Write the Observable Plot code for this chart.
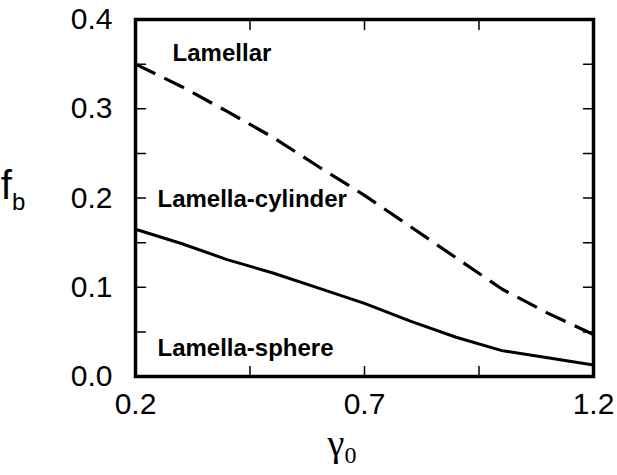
<!DOCTYPE html>
<html><head><meta charset="utf-8">
<script src="https://cdn.jsdelivr.net/npm/d3@7"></script>
<script src="https://cdn.jsdelivr.net/npm/@observablehq/plot@0.6"></script>
<style>body{margin:0;background:#fff}</style>
</head><body><div id="chart"></div>
<script>
// gamma_0 sample positions
const gamma = [0.2, 0.3, 0.4, 0.5, 0.6, 0.7, 0.8, 0.9, 1.0, 1.1, 1.2];
// Lamellar / lamella-cylinder boundary (dashed)
const lamellarBoundary = [0.350, 0.325, 0.297, 0.268, 0.235, 0.203, 0.168, 0.133, 0.098, 0.071, 0.047];
// Lamella-cylinder / lamella-sphere boundary (solid)
const sphereBoundary = [0.165, 0.149, 0.131, 0.116, 0.099, 0.082, 0.062, 0.044, 0.029, 0.021, 0.013];

const xTickLabels = [0.2, 0.7, 1.2];
const xTicks = [0.2, 0.45, 0.7, 0.95, 1.2];
const yTickLabels = [0.0, 0.1, 0.2, 0.3, 0.4];
const yTicks = [0.0, 0.05, 0.1, 0.15, 0.2, 0.25, 0.3, 0.35, 0.4];

const regionNames = ["Lamellar", "Lamella-cylinder", "Lamella-sphere"];
const regionX = [0.281, 0.248, 0.248];
const regionY = [0.362, 0.198, 0.032];

const spike = {draw(ctx, l) { ctx.moveTo(0, 0); ctx.lineTo(0, -l); }};
const tickStyle = {length: 10, anchor: "start", shape: spike, stroke: "black", strokeWidth: 1.5};

const chart = Plot.plot({
  width: 617,
  height: 475,
  marginLeft: 135,
  marginRight: 24,
  marginTop: 19,
  marginBottom: 99,
  style: {fontFamily: "'Liberation Sans', Arial, sans-serif", background: "white", color: "black"},
  x: {domain: [0.2, 1.2]},
  y: {domain: [0, 0.4]},
  marks: [
    Plot.axisX(xTickLabels, {tickSize: 0, tickPadding: 16, fontSize: 30, tickFormat: d3.format(".1f"), label: null}),
    Plot.axisY(yTickLabels, {tickSize: 0, tickPadding: 23, fontSize: 30, tickFormat: d3.format(".1f"), label: null}),
    Plot.vector(xTicks, {x: d => d, frameAnchor: "bottom", rotate: 0, ...tickStyle}),
    Plot.vector(xTicks, {x: d => d, frameAnchor: "top", rotate: 180, ...tickStyle}),
    Plot.vector(yTicks, {y: d => d, frameAnchor: "left", rotate: 90, ...tickStyle}),
    Plot.vector(yTicks, {y: d => d, frameAnchor: "right", rotate: -90, ...tickStyle}),
    Plot.line(gamma, {x: d => d, y: (d, i) => lamellarBoundary[i], stroke: "black", strokeWidth: 3.2, strokeDasharray: "22,10", strokeLinecap: "butt"}),
    Plot.line(gamma, {x: d => d, y: (d, i) => sphereBoundary[i], stroke: "black", strokeWidth: 3}),
    Plot.text(regionNames, {x: (d, i) => regionX[i], y: (d, i) => regionY[i], text: d => d, textAnchor: "start", fontSize: 24, fontWeight: "bold", fill: "black"}),
    Plot.frame({stroke: "black", strokeWidth: 3.5})
  ]
});
document.getElementById("chart").appendChild(chart);

// axis titles with subscripts
const svg = d3.select(chart);
const yl = svg.append("text").attr("x", 13).attr("y", 199)
  .attr("font-family", "'Liberation Sans', Arial, sans-serif").attr("fill", "black");
yl.append("tspan").attr("font-size", 40).text("f");
yl.append("tspan").attr("font-size", 24).attr("dy", 11).text("b");
const xl = svg.append("text").attr("x", 342).attr("y", 456)
  .attr("font-family", "'Liberation Serif', 'Times New Roman', serif").attr("fill", "black");
xl.append("tspan").attr("font-size", 38).text("γ");
xl.append("tspan").attr("font-size", 24).attr("dy", 7).text("0");
</script>
</body></html>
